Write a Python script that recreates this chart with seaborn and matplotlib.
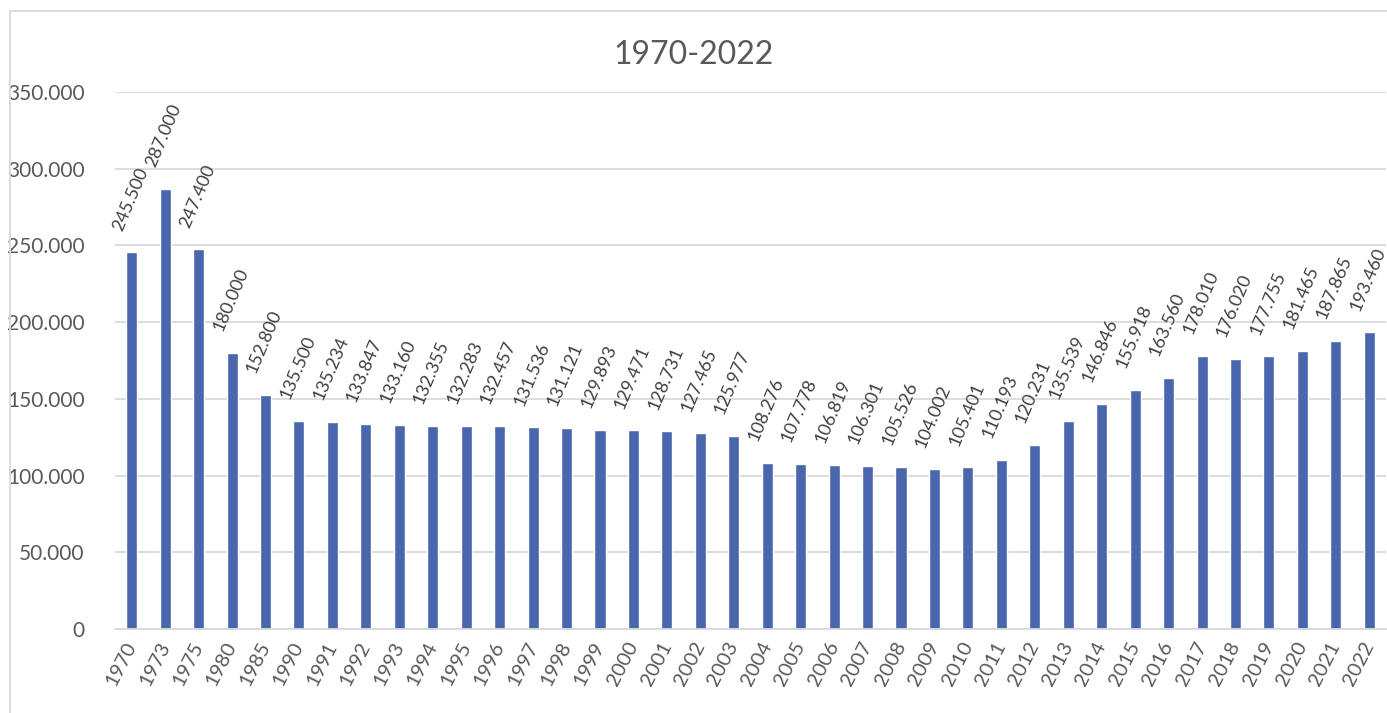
import numpy as np
import pandas as pd
import matplotlib
matplotlib.use('Agg')
import matplotlib.pyplot as plt
from matplotlib.patches import Rectangle
from matplotlib.ticker import FuncFormatter, FixedLocator
import seaborn as sns

years = ['1970', '1973', '1975', '1980', '1985', '1990', '1991', '1992', '1993', '1994',
         '1995', '1996', '1997', '1998', '1999', '2000', '2001', '2002', '2003', '2004',
         '2005', '2006', '2007', '2008', '2009', '2010', '2011', '2012', '2013', '2014',
         '2015', '2016', '2017', '2018', '2019', '2020', '2021', '2022']
values = [245500, 287000, 247400, 180000, 152800, 135500, 135234, 133847, 133160, 132355,
          132283, 132457, 131536, 131121, 129893, 129471, 128731, 127465, 125977, 108276,
          107778, 106819, 106301, 105526, 104002, 105401, 110193, 120231, 135539, 146846,
          155918, 163560, 178010, 176020, 177755, 181465, 187865, 193460]
title = '1970-2022'

df = pd.DataFrame({'year': years, 'value': values})

sns.set_style('white')
plt.rcParams['font.family'] = ['Lato', 'DejaVu Sans']

bar_color = '#4a66ac'
text_gray = '#595959'
line_gray = '#d9d9d9'


def dotted(v, pos=None):
    # thousands separator as a dot, like the original
    return f'{int(round(v)):,}'.replace(',', '.')


fig = plt.figure(figsize=(13.87, 7.13), dpi=100)
ax = fig.add_axes([115 / 1387, 1 - 629 / 713, (1386 - 115) / 1387, (629 - 92) / 713])

sns.barplot(data=df, x='year', y='value', color=bar_color, width=0.33,
            saturation=1, ax=ax)

ax.set_xlim(-0.5, len(years) - 0.5)
ax.set_ylim(0, 350000)
ax.set_yticks(np.arange(0, 350001, 50000))
ax.yaxis.set_major_formatter(FuncFormatter(dotted))
ax.grid(axis='y', color=line_gray, linewidth=1.3)
ax.set_axisbelow(True)

for side in ['left', 'right', 'top']:
    ax.spines[side].set_visible(False)
ax.spines['bottom'].set_color(line_gray)
ax.spines['bottom'].set_linewidth(1.3)

ax.tick_params(axis='y', length=0, pad=22, labelsize=15, labelcolor=text_gray)
ax.tick_params(axis='x', which='major', length=0, pad=10, labelsize=14.5,
               labelcolor=text_gray)
ax.xaxis.set_minor_locator(FixedLocator(np.arange(-0.5, len(years), 1.0)))
ax.tick_params(axis='x', which='minor', length=7, width=1.3, color=line_gray)
for lab in ax.get_xticklabels():
    lab.set_rotation(63)
    lab.set_rotation_mode('anchor')
    lab.set_ha('right')
    lab.set_va('center')

ax.set_xlabel('')
ax.set_ylabel('')

for i, v in enumerate(values):
    ax.annotate(dotted(v), (i, v), xytext=(-1, 14), textcoords='offset points',
                rotation=67, ha='center', va='bottom',
                fontsize=13, color='#404040')

fig.text(0.5, 1 - 55 / 713, title, ha='center', va='center', fontsize=23,
         color=text_gray)

fig.patches.append(Rectangle((10 / 1387, -0.05), 1.2, 1 - 11 / 713 + 0.05,
                             transform=fig.transFigure, fill=False,
                             edgecolor=line_gray, linewidth=1.3))

fig.savefig('out.png', dpi=100, facecolor='white')
